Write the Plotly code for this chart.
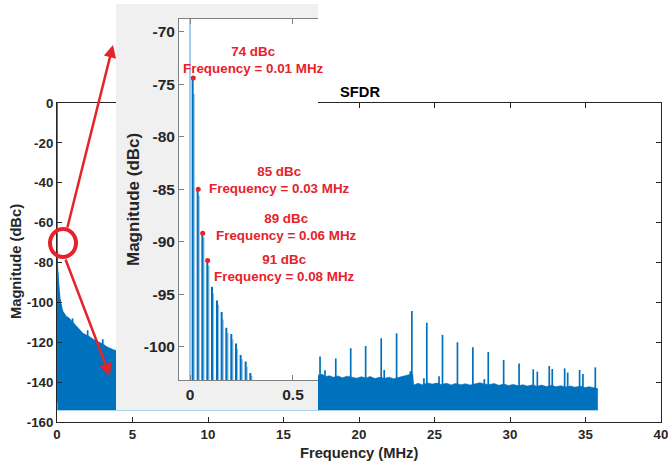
import plotly.graph_objects as go

W, H = 668, 466
BLUE = '#0072BD'
LIGHT = '#8fc0e4'
RED = '#E6232B'
TXT = '#262626'
FONT = 'Liberation Sans, Arial, Helvetica, sans-serif'

# ---------------- data ----------------
# fundamental tone
fund_freq = 0.0
fund_level = 0.0

# low-frequency harmonic comb (MHz, dBc) - strong lines
comb_freq = [0.0129, 0.0372, 0.0599, 0.0841, 0.1068, 0.1311, 0.1537,
             0.1764, 0.2006, 0.2233, 0.2460, 0.2702, 0.2929]
comb_level = [-74.4, -85.0, -89.2, -91.8, -94.3, -95.6, -96.7,
              -98.2, -98.8, -99.7, -100.8, -101.4, -102.5]
# low-frequency comb - faint companion lines
comb2_freq = [0.0194, 0.0437, 0.0664, 0.0906, 0.1133, 0.1376, 0.1602,
              0.1829, 0.2071, 0.2298, 0.2525, 0.2767, 0.2994]
comb2_level = [-75.9, -85.6, -89.6, -92.3, -94.9, -96.0, -97.4,
               -98.7, -99.3, -100.2, -101.2, -101.9, -102.8]

# spurs visible on the wide view (MHz, dBc)
spur_freq = [1.03, 2.03, 3.03,
             17.42, 17.75, 18.46, 19.45, 20.44, 21.47, 21.67, 22.49, 23.40,
             23.50, 24.30, 24.49, 25.30, 25.53, 26.52, 27.54, 28.30, 28.56,
             29.58, 30.60, 31.54, 31.81, 32.60, 32.80, 33.62, 33.82, 34.61,
             34.83, 35.65]
spur_level = [-108.0, -114.0, -118.5,
              -127.2, -134.0, -128.1, -123.0, -121.9, -118.0, -133.9, -115.5, -134.5,
              -104.3, -138.0, -110.2, -137.0, -116.3, -120.0, -122.5, -138.5, -124.9,
              -128.9, -130.6, -133.6, -134.7, -131.9, -133.4, -133.1, -135.2, -133.9,
              -135.9, -132.6]

# top edge of the noise floor (MHz, dBc)
noise_freq = [0.02, 0.08, 0.13, 0.22, 0.40, 0.62, 0.80, 0.95, 1.10, 1.28, 1.45,
              1.72, 1.95, 2.17, 2.40, 2.60, 2.85, 3.05, 3.30, 3.49, 3.70, 3.95,
              8.0, 12.0, 16.0,
              17.30, 17.55, 17.80, 18.05, 18.30, 18.60, 18.90, 19.20, 19.55,
              19.85, 20.15, 20.45, 20.75, 21.05, 21.35, 21.70, 22.00, 22.30,
              22.65, 22.95, 23.25, 23.55, 23.62, 23.90, 24.20, 24.55, 24.85,
              25.15, 25.45, 25.80, 26.10, 26.40, 26.75, 27.05, 27.35, 27.70,
              28.00, 28.30, 28.65, 28.95, 29.25, 29.60, 29.90, 30.20, 30.55,
              30.85, 31.15, 31.45, 31.80, 32.10, 32.40, 32.75, 33.05, 33.35,
              33.70, 34.00, 34.30, 34.65, 34.95, 35.25, 35.55, 35.80]
noise_top = [-80.0, -86.0, -93.5, -100.5, -104.5, -107.0, -107.8, -109.0, -110.5, -112.0, -113.5,
             -115.5, -116.4, -117.2, -118.5, -119.2, -120.2, -120.9, -122.2, -123.0, -123.6, -124.3,
             -129.0, -132.5, -135.5,
             -136.5, -136.0, -137.2, -136.8, -137.6, -136.9, -137.8, -137.0, -137.4,
             -138.0, -137.3, -137.9, -137.2, -138.2, -137.6, -138.1, -137.5, -138.3,
             -137.6, -137.0, -136.4, -135.8, -141.5, -140.6, -141.3, -140.4, -141.0,
             -140.5, -141.2, -140.6, -141.4, -140.7, -141.3, -140.8, -141.5, -140.9,
             -140.3, -140.9, -141.2, -140.7, -141.6, -141.0, -141.7, -141.2, -141.8,
             -141.3, -142.0, -141.4, -142.1, -141.5, -142.2, -141.6, -142.3, -141.8,
             -142.4, -141.9, -142.6, -142.0, -142.7, -142.3, -143.0, -143.2]
noise_bottom = -154.0

# marked spurs in the zoomed view
mark_freq = [0.016, 0.040, 0.0615, 0.0858]
mark_level = [-74.4, -85.0, -89.2, -91.8]
mark_dbc = ['74 dBc', '85 dBc', '89 dBc', '91 dBc']
mark_fmhz = ['0.01', '0.03', '0.06', '0.08']

x_ticks = [0, 5, 10, 15, 20, 25, 30, 35, 40]
x_tick_text = ['0', '5', '10', '15', '20', '25', '30', '35', '40']
y_ticks = [0, -20, -40, -60, -80, -100, -120, -140, -160]
y_tick_text = ['0', '-20', '-40', '-60', '-80', '-100', '-120', '-140', '-160']
inset_x_ticks = [0, 0.5]
inset_x_text = ['0', '0.5']
inset_y_ticks = [-70, -75, -80, -85, -90, -95, -100]
inset_y_text = ['-70', '-75', '-80', '-85', '-90', '-95', '-100']

# ---------------- helpers ----------------
def px(x):
    return x / W


def py(y):
    return 1 - y / H


SPIKE_BASE = -150.0


def spikes(freqs, levels):
    xs, ys = [], []
    for f, l in zip(freqs, levels):
        xs += [f, f, None]
        ys += [SPIKE_BASE, l, None]
    return xs, ys


fig = go.Figure()

# ---------- main axes ----------
fig.add_trace(go.Scatter(
    x=noise_freq + noise_freq[::-1],
    y=noise_top + [noise_bottom] * len(noise_freq),
    fill='toself', fillcolor=BLUE, mode='lines',
    line=dict(color=BLUE, width=0.6), hoverinfo='skip', showlegend=False))
sx, sy = spikes(spur_freq, spur_level)
fig.add_trace(go.Scatter(x=sx, y=sy, mode='lines', line=dict(color=BLUE, width=1.7),
                         hoverinfo='skip', showlegend=False))
cx, cy = spikes(comb_freq + [fund_freq], comb_level + [fund_level])
fig.add_trace(go.Scatter(x=cx, y=cy, mode='lines', line=dict(color=BLUE, width=1.7),
                         hoverinfo='skip', showlegend=False))

# ---------- grey panel behind the inset (dummy subplot) ----------
fig.add_trace(go.Scatter(x=[None], y=[None], xaxis='x2', yaxis='y2',
                         hoverinfo='skip', showlegend=False))

# ---------- inset ----------
fx, fy = spikes([fund_freq], [fund_level])
fig.add_trace(go.Scatter(x=fx, y=fy, xaxis='x3', yaxis='y3', mode='lines',
                         line=dict(color='#6aaade', width=1.2),
                         hoverinfo='skip', showlegend=False))
c2x, c2y = spikes(comb2_freq, comb2_level)
fig.add_trace(go.Scatter(x=c2x, y=c2y, xaxis='x3', yaxis='y3', mode='lines',
                         line=dict(color=LIGHT, width=1.6),
                         hoverinfo='skip', showlegend=False))
c1x, c1y = spikes(comb_freq, comb_level)
fig.add_trace(go.Scatter(x=c1x, y=c1y, xaxis='x3', yaxis='y3', mode='lines',
                         line=dict(color=BLUE, width=2.0),
                         hoverinfo='skip', showlegend=False))
fig.add_trace(go.Scatter(x=mark_freq, y=mark_level, xaxis='x3', yaxis='y3',
                         mode='markers', marker=dict(color=RED, size=5),
                         hoverinfo='skip', showlegend=False))

tickfont_main = dict(family=FONT, size=13.3, color=TXT, weight='bold')
tickfont_inset = dict(family=FONT, size=15.5, color=TXT, weight='bold')

fig.update_layout(
    width=W, height=H,
    margin=dict(l=0, r=0, t=0, b=0, autoexpand=False),
    paper_bgcolor='white', plot_bgcolor='white',
    showlegend=False,
    xaxis=dict(domain=[px(57), px(661)], range=[0, 40], tickvals=x_ticks,
               ticktext=x_tick_text, ticklabeloverflow='allow',
               ticks='inside', ticklen=5, tickcolor=TXT, showline=True, linecolor=TXT,
               linewidth=1, mirror='ticks', showgrid=False, zeroline=False,
               tickfont=tickfont_main, anchor='y', automargin=False),
    yaxis=dict(domain=[py(422), py(103)], range=[-160, 0], tickvals=y_ticks,
               ticktext=y_tick_text, ticklabeloverflow='allow',
               ticks='inside', ticklen=5, tickcolor=TXT, showline=True, linecolor=TXT,
               linewidth=1, mirror='ticks', showgrid=False, zeroline=False,
               tickfont=tickfont_main, anchor='x', automargin=False),
    xaxis2=dict(domain=[px(116), px(318)], range=[0, 1], visible=False, anchor='y2',
                automargin=False),
    yaxis2=dict(domain=[py(410), py(4)], range=[0, 1], visible=False, anchor='x2',
                automargin=False),
    xaxis3=dict(domain=[px(179), px(318)], range=[-0.0534, 0.6214], tickvals=inset_x_ticks,
                ticktext=inset_x_text, ticklabeloverflow='allow',
                ticks='inside', ticklen=5, tickcolor='#808080', showline=True,
                linecolor='#808080', linewidth=1, mirror='ticks', showgrid=False,
                zeroline=False, tickfont=tickfont_inset, anchor='y3', automargin=False),
    yaxis3=dict(domain=[py(380), py(19)], range=[-103.17, -68.79], tickvals=inset_y_ticks,
                ticktext=inset_y_text, ticklabeloverflow='allow',
                ticks='inside', ticklen=5, tickcolor='#808080', showline=True,
                linecolor='#808080', linewidth=1, mirror=False, showgrid=False,
                zeroline=False, tickfont=tickfont_inset, anchor='x3', automargin=False),
)

shapes = [
    dict(type='rect', xref='x2', yref='y2', x0=0, x1=1, y0=0, y1=1,
         fillcolor='#f0f0f0', line=dict(width=0), layer='below'),
    dict(type='circle', xref='paper', yref='paper',
         x0=px(63 - 13), x1=px(63 + 13), y0=py(243 + 14), y1=py(243 - 14),
         line=dict(color=RED, width=4), layer='above'),
]
fig.update_layout(shapes=shapes)

C = dict(xref='paper', yref='paper', xanchor='center', yanchor='middle', showarrow=False)
ann = []
# titles
ann.append(dict(text='<b>SFDR</b>', x=px(360), y=py(92),
                font=dict(family=FONT, size=14.7, color='black'), **C))
ann.append(dict(text='<b>Frequency (MHz)</b>', x=px(359), y=py(453),
                font=dict(family=FONT, size=14.7, color=TXT), **C))
ann.append(dict(text='<b>Magnitude (dBc)</b>', x=px(16), y=py(262), textangle=-90,
                font=dict(family=FONT, size=14.7, color=TXT), **C))
ann.append(dict(text='<b>Magnitude (dBc)</b>', x=px(133), y=py(200), textangle=-90,
                font=dict(family=FONT, size=17, color=TXT), **C))
# spur labels
label_pos = [(253, 60), (279, 180), (286, 227), (284, 268)]
for (lx, ly), d, f in zip(label_pos, mark_dbc, mark_fmhz):
    ann.append(dict(text='<b>%s</b><br><b>Frequency = %s MHz</b>' % (d, f),
                    x=px(lx), y=py(ly), align='center',
                    font=dict(family=FONT, size=13.4, color=RED), **C))
# arrows from circle to inset
ann.append(dict(text='', x=px(113), y=py(45), xref='paper', yref='paper',
                showarrow=True, ax=67 - 113, ay=229 - 45, arrowhead=2, arrowsize=1,
                arrowwidth=2.5, arrowcolor=RED, standoff=0))
ann.append(dict(text='', x=px(110), y=py(376), xref='paper', yref='paper',
                showarrow=True, ax=65 - 110, ay=258 - 376, arrowhead=2, arrowsize=1,
                arrowwidth=2.5, arrowcolor=RED, standoff=0))
fig.update_layout(annotations=ann)

fig.write_html('out.html', config={'displayModeBar': False, 'staticPlot': True},
               post_script="document.body.style.margin='0px';")
